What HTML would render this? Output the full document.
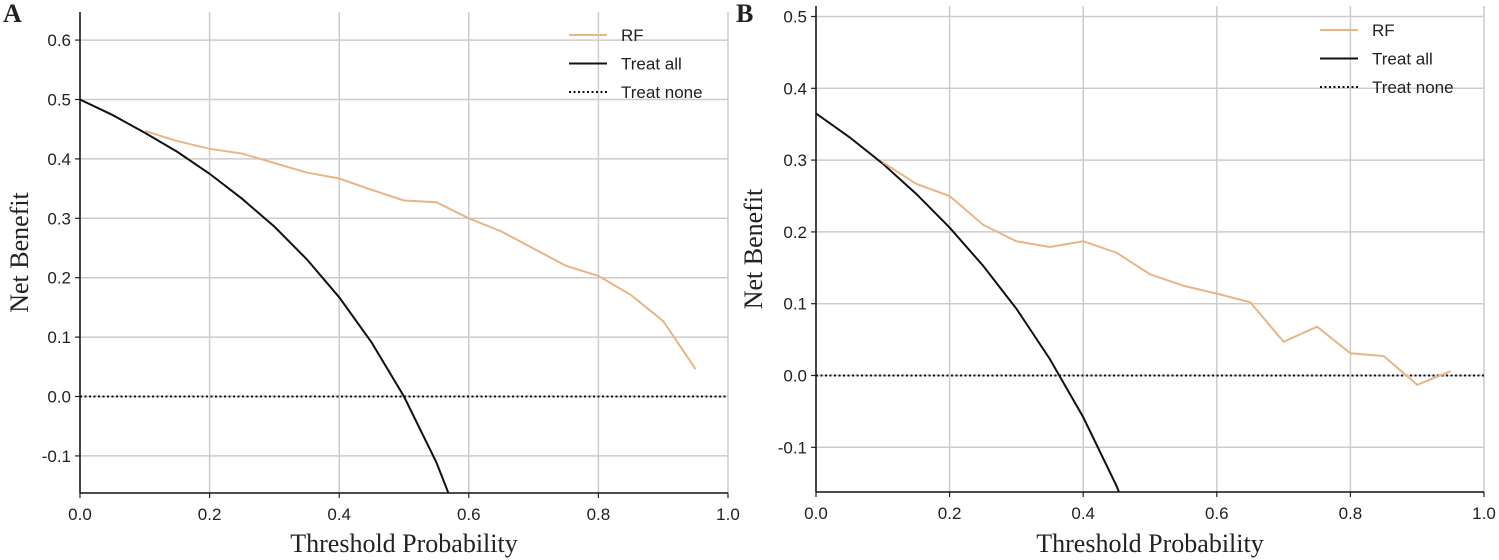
<!DOCTYPE html>
<html><head><meta charset="utf-8"><style>
body{margin:0;background:#fff;}
svg{display:block;}
.tick{font-family:"Liberation Sans",sans-serif;font-size:17px;fill:#222;}
.lab{font-family:"Liberation Serif",serif;font-size:26px;fill:#222;}
.leg{font-family:"Liberation Sans",sans-serif;font-size:17px;fill:#222;}
</style></head><body>
<svg id="chart" width="1499" height="560"></svg>
<script>
const thresholds=[0,0.05,0.1,0.15,0.2,0.25,0.3,0.35,0.4,0.45,0.5,0.55,0.6,0.65,0.7,0.75,0.8,0.85,0.9,0.95];
const xTicks=[0,0.2,0.4,0.6,0.8,1.0];
const treatAllA=[0.5,0.474,0.444,0.412,0.375,0.333,0.286,0.231,0.167,0.091,0,-0.111,-0.25];
const rfA=[null,null,0.447,0.43,0.417,0.409,0.393,0.377,0.367,0.348,0.330,0.327,0.300,0.278,0.249,0.220,0.203,0.171,0.127,0.046];
const yTicksA=[-0.1,0,0.1,0.2,0.3,0.4,0.5,0.6];
const treatAllB=[0.365,0.332,0.295,0.253,0.206,0.153,0.093,0.023,-0.058,-0.154,-0.27];
const rfB=[null,null,0.297,0.267,0.250,0.210,0.187,0.179,0.187,0.171,0.141,0.125,0.114,0.102,0.047,0.068,0.031,0.027,-0.013,0.006];
const yTicksB=[-0.1,0,0.1,0.2,0.3,0.4,0.5];
const NS="http://www.w3.org/2000/svg";
const svg=document.getElementById('chart');
function mk(tag,attrs,parent){const e=document.createElementNS(NS,tag);for(const k in attrs)e.setAttribute(k,attrs[k]);(parent||svg).appendChild(e);return e;}
function panel(cfg){
  const g=mk('g',{});
  
  
  const xs=v=>cfg.x0+(cfg.x1-cfg.x0)*v;
  const ys=v=>cfg.yZero-v*cfg.ppu;
  const cp=mk('clipPath',{id:'clip'+cfg.id},g);
  mk('rect',{x:cfg.x0,y:cfg.top,width:cfg.x1-cfg.x0,height:cfg.bottom-cfg.top},cp);
  xTicks.forEach(t=>{
    const l=mk('line',{x1:xs(t),x2:xs(t),y1:cfg.top,y2:cfg.bottom,stroke:'#cccccc','stroke-width':1.5},g);
    
    
    mk('line',{x1:xs(t),x2:xs(t),y1:cfg.bottom,y2:cfg.bottom+5,stroke:'#222','stroke-width':1.2},g);
    const tx=mk('text',{x:xs(t),y:cfg.bottom+27,'text-anchor':'middle',class:'tick'},g);
    tx.textContent=t.toFixed(1);
    
    
  });
  cfg.yTicks.forEach(t=>{
    const l=mk('line',{x1:cfg.x0,x2:cfg.x1,y1:ys(t),y2:ys(t),stroke:'#cccccc','stroke-width':1.5},g);
    
    
    mk('line',{x1:cfg.x0-5,x2:cfg.x0,y1:ys(t),y2:ys(t),stroke:'#222','stroke-width':1.2},g);
    const tx=mk('text',{x:cfg.x0-9,y:ys(t)+6,'text-anchor':'end',class:'tick'},g);
    tx.textContent=t.toFixed(1);
    
    
  });
  const none=mk('line',{x1:cfg.x0,x2:cfg.x1,y1:ys(0),y2:ys(0),stroke:'#111','stroke-width':2,'stroke-dasharray':'2,2.5'},g);
  
  
  let d='';cfg.all.forEach((v,i)=>{d+=(i?'L':'M')+xs(thresholds[i])+','+ys(v);});
  const pa=mk('path',{d:d,fill:'none',stroke:'#111','stroke-width':2,'clip-path':'url(#clip'+cfg.id+')'},g);
  
  
  d='';let first=true;cfg.rf.forEach((v,i)=>{if(v===null)return;d+=(first?'M':'L')+xs(thresholds[i])+','+ys(v);first=false;});
  const pr=mk('path',{d:d,fill:'none',stroke:'#e8b585','stroke-width':2},g);
  
  
  const ax=mk('line',{x1:cfg.x0,x2:cfg.x0,y1:cfg.top,y2:cfg.bottom,stroke:'#111','stroke-width':1.5},g);
  
  
  const bx=mk('line',{x1:cfg.x0,x2:cfg.x1,y1:cfg.bottom,y2:cfg.bottom,stroke:'#111','stroke-width':1.5},g);
  
  
  const items=[['RF','#e8b585',null],['Treat all','#111',null],['Treat none','#111','2,2.5']];
  items.forEach((it,k)=>{
    const y=cfg.legY+k*28.5;
    const lg=mk('g',{},g);
    
    
    const a={x1:cfg.legX,x2:cfg.legX+38,y1:y,y2:y,stroke:it[1],'stroke-width':2};
    if(it[2])a['stroke-dasharray']=it[2];
    mk('line',a,lg);
    const t=mk('text',{x:cfg.legX+52,y:y+6,class:'leg'},lg);t.textContent=it[0];
  });
  const yl=mk('text',{x:0,y:0,class:'lab','text-anchor':'middle',transform:'translate('+cfg.ylx+','+((cfg.top+cfg.bottom)/2)+') rotate(-90)'},g);
  yl.textContent='Net Benefit';
  
  
  const xl=mk('text',{x:(cfg.x0+cfg.x1)/2,y:552,class:'lab','text-anchor':'middle'},g);
  xl.textContent='Threshold Probability';
  
  
  const pl=mk('text',{x:cfg.px,y:22,class:'lab','font-weight':'bold','font-size':'25'},g);
  pl.textContent=cfg.id;
  
  
}
panel({id:'A',x0:80,x1:728,top:12,bottom:493,yZero:396.5,ppu:594,yTicks:yTicksA,all:treatAllA,rf:rfA,legX:569,legY:35,ylx:28,px:3});
panel({id:'B',x0:816,x1:1484,top:6,bottom:492,yZero:375.5,ppu:718,yTicks:yTicksB,all:treatAllB,rf:rfB,legX:1320,legY:30,ylx:762,px:736});
</script>
</body></html>
